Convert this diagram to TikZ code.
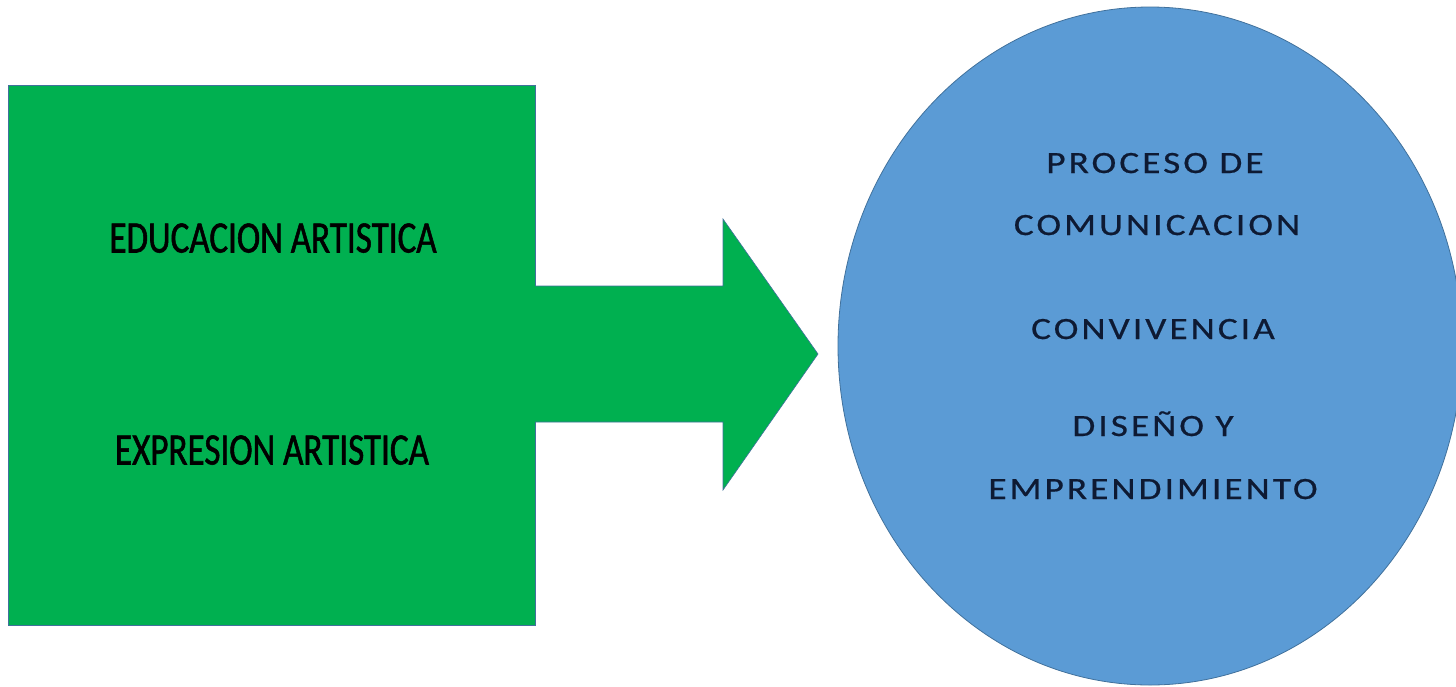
\documentclass[tikz,border=0pt]{standalone}
\usepackage{fontspec}
\setmainfont{Carlito}
\newfontfamily\boxfont[FakeStretch=0.78,FakeBold=1.2]{Carlito}
\newfontfamily\circfont[FakeStretch=1.2,LetterSpace=10,FakeBold=0.6]{Carlito}
\usetikzlibrary{shapes.geometric}
\definecolor{boxgreen}{HTML}{00B050}
\definecolor{circblue}{HTML}{5B9BD5}
\definecolor{edgeblue}{HTML}{41719C}
\definecolor{inkblue}{HTML}{0E1A33}
\begin{document}
\begin{tikzpicture}[x=1pt,y=-1pt,
    boxtext/.style={anchor=base,font=\boxfont\fontsize{45}{54}\selectfont,text=black},
    circtext/.style={anchor=base,font=\circfont\fontsize{31}{37}\selectfont,text=inkblue}]
  \useasboundingbox (0,0) rectangle (1456,686);
  % left block
  \node[draw=edgeblue,line width=0.8pt,fill=boxgreen,minimum width=527pt,minimum height=540pt,inner sep=0pt] (box) at (271.5,355) {};
  \node[boxtext] (edu) at (273,252.5) {EDUCACION ARTISTICA};
  \node[boxtext] (expr) at (272,464.5) {EXPRESION ARTISTICA};
  % block arrow
  \fill[boxgreen] (530,286) -- (723,286) -- (723,219) -- (818,354) -- (723,490) -- (723,422) -- (530,422) -- cycle;
  \draw[edgeblue,line width=0.6pt,line join=miter] (box.east |- 0,286) -- (723,286) -- (723,219) -- (818,354) -- (723,490) -- (723,422) -- (box.east |- 0,422);
  % right ellipse
  \node[ellipse,draw=edgeblue,line width=0.8pt,fill=circblue,minimum width=624pt,minimum height=678pt,inner sep=0pt] (circ) at (1150,346) {};
  \node[circtext] (proc) at (1155,173) {PROCESO DE};
  \node[circtext] (comu) at (1157,235) {COMUNICACION};
  \node[circtext] (conv) at (1153,339) {CONVIVENCIA};
  \node[circtext] (dise) at (1153,436) {DISEÑO Y};
  \node[circtext] (empr) at (1153,499) {EMPRENDIMIENTO};
\end{tikzpicture}
\end{document}
